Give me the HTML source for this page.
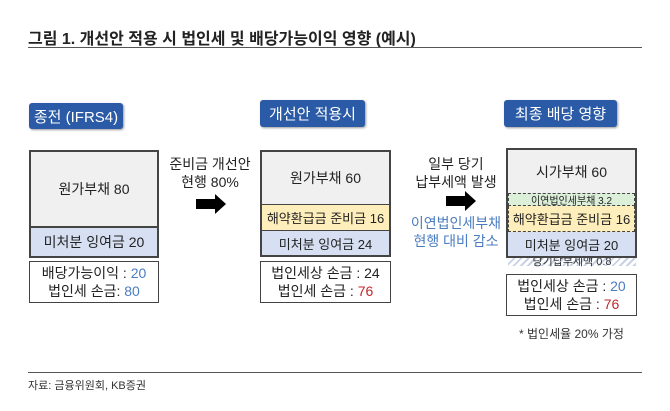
<!DOCTYPE html>
<html><head><meta charset="utf-8"><style>
body{margin:0;width:670px;height:411px;background:#fff;position:relative;overflow:hidden;font-family:"Liberation Sans","Noto Sans CJK KR",sans-serif;color:#222}
div{position:absolute;box-sizing:border-box}
.c{display:flex;align-items:center;justify-content:center;text-align:center}
.hd{background:#2b5ba6;color:#fff;font-size:15px;border-radius:3px;box-shadow:1px 1px 2px #999}
.bx{border:2px solid #444}
.g{background:#f0f0f0}
.b{background:#d6e0f2}
.y{background:#fdeebb}
.t{font-size:14px;line-height:18px}
.bl{color:#4a7cc0}.rd{color:#c0282d}
</style></head><body>
<div style="left:28px;top:25px;font-size:16px;font-weight:bold;color:#222">그림 1. 개선안 적용 시 법인세 및 배당가능이익 영향 (예시)</div>
<div style="left:28px;top:47px;width:614px;height:1px;background:#555"></div>

<div class="hd c" style="left:29px;top:103px;width:94px;height:26px">종전 (IFRS4)</div>
<div class="hd c" style="left:260px;top:100px;width:105px;height:27px">개선안 적용시</div>
<div class="hd c" style="left:504px;top:100px;width:113px;height:27px">최종 배당 영향</div>

<!-- left -->
<div class="bx" style="left:29px;top:150px;width:130px;height:108px"></div>
<div class="g c t" style="left:31px;top:152px;width:126px;height:74px">원가부채 80</div>
<div class="b c t" style="left:31px;top:226px;width:126px;height:30px;border-top:2px solid #444">미처분 잉여금 20</div>
<div class="bx c t" style="left:29px;top:261px;width:130px;height:42px;border-width:1.5px;flex-direction:column"><span>배당가능이익 : <span class="bl">20</span></span><span>법인세 손금: <span class="bl">80</span></span></div>
<div class="c t" style="left:166px;top:155px;width:88px;flex-direction:column">준비금 개선안<br>현행 80%</div>
<div style="left:196px;top:199px;width:20px;height:10px;background:#000"></div>
<div style="left:215px;top:194px;width:0;height:0;border-top:10px solid transparent;border-bottom:10px solid transparent;border-left:11px solid #000"></div>

<!-- middle -->
<div class="bx" style="left:260px;top:150px;width:131px;height:107px"></div>
<div class="g c t" style="left:262px;top:152px;width:127px;height:52px">원가부채 60</div>
<div class="y c" style="left:262px;top:204px;width:127px;height:26px;border-top:1.5px solid #444;font-size:13px">해약환급금 준비금 16</div>
<div class="b c" style="left:262px;top:230px;width:127px;height:25px;border-top:1.5px solid #444;font-size:13px">미처분 잉여금 24</div>
<div class="bx c t" style="left:260px;top:261px;width:131px;height:42px;border-width:1.5px;flex-direction:column"><span>법인세상 손금 : 24</span><span>법인세 손금 : <span class="rd">76</span></span></div>
<div class="c t" style="left:410px;top:155px;width:92px;flex-direction:column">일부 당기<br>납부세액 발생</div>
<div style="left:446px;top:196px;width:20px;height:10px;background:#000"></div>
<div style="left:465px;top:191px;width:0;height:0;border-top:10px solid transparent;border-bottom:10px solid transparent;border-left:11px solid #000"></div>
<div class="c t bl" style="left:408px;top:214px;width:96px;flex-direction:column">이연법인세부채<br>현행 대비 감소</div>

<!-- right -->
<div style="left:508px;top:256px;width:128px;height:10px;background:repeating-linear-gradient(135deg,#c8d2e4 0 2px,#fff 2px 5px)"></div>
<div class="c" style="left:508px;top:255px;width:128px;height:12px;font-size:11px;color:#333">당기납부세액 0.8</div>
<div class="bx" style="left:506px;top:148px;width:131px;height:110px"></div>
<div class="g c t" style="left:508px;top:150px;width:127px;height:43px">시가부채 60</div>
<div class="c" style="left:508px;top:193px;width:127px;height:13px;background:#dcefd8;border:1px dashed #444;font-size:10px">이연법인세부채 3.2</div>
<div class="y c" style="left:508px;top:206px;width:127px;height:26px;border:1px dashed #444;border-top:none;font-size:13px">해약환급금 준비금 16</div>
<div class="b c" style="left:508px;top:232px;width:127px;height:24px;font-size:13px">미처분 잉여금 20</div>
<div class="bx c t" style="left:506px;top:274px;width:131px;height:42px;border-width:1.5px;flex-direction:column"><span>법인세상 손금 : <span class="bl">20</span></span><span>법인세 손금 : <span class="rd">76</span></span></div>
<div style="left:519px;top:325px;font-size:12px;color:#333">* 법인세율 20% 가정</div>

<div style="left:28px;top:372px;width:614px;height:1px;background:#555"></div>
<div style="left:28px;top:377px;font-size:11px;color:#333">자료: 금융위원회, KB증권</div>
</body></html>
